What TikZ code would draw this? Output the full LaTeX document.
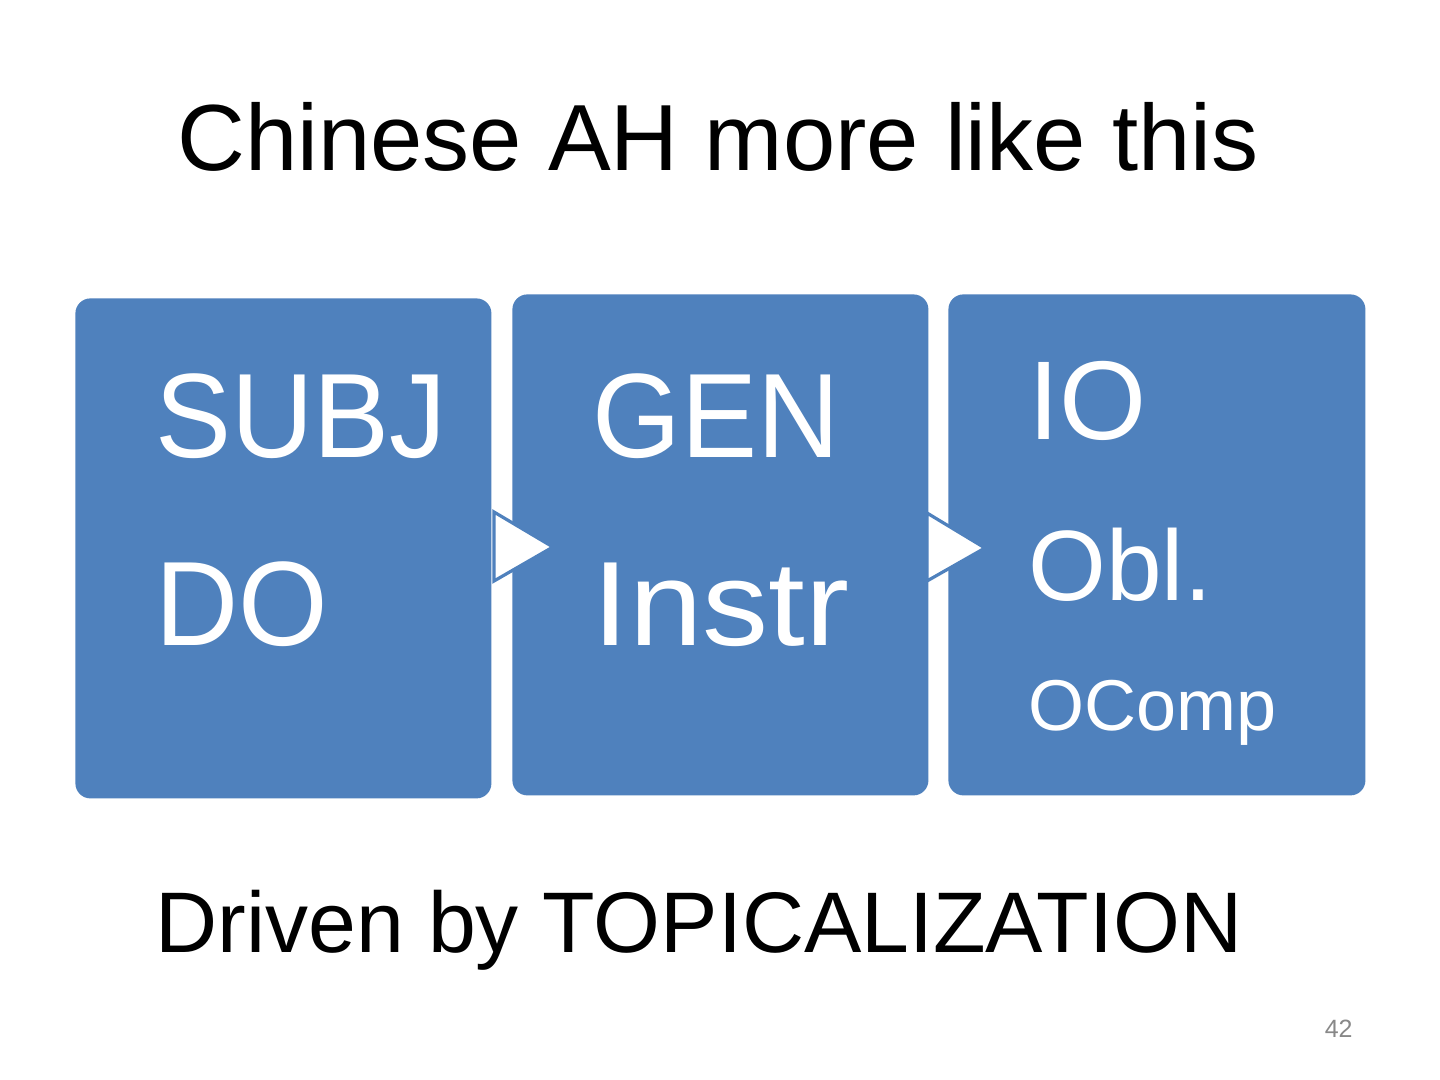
\documentclass[tikz,border=0pt]{standalone}
\usepackage{fontspec}
\setmainfont{Liberation Sans}
\definecolor{boxblue}{HTML}{4F81BD}
\definecolor{pagegray}{HTML}{888888}
\begin{document}
\begin{tikzpicture}[x=0.5pt,y=-0.5pt,
  box/.style={fill=boxblue, draw=none, rounded corners=7.5pt, minimum width=208pt, minimum height=250pt, inner sep=0pt, anchor=north west},
  btext/.style={text=white, anchor=base west, inner sep=0pt},
  chev/.style={fill=white, draw=boxblue, line width=1.6pt, line join=miter}]
\useasboundingbox (0,0) rectangle (1440,1080);
\fill[white] (0,0) rectangle (1440,1080);
\node[box] (b1) at (75,298) {};
\node[box, minimum height=250.5pt] (b2) at (512,294) {};
\node[box, minimum height=250.5pt, minimum width=208.5pt] (b3) at (948,294) {};
\node[btext, font=\fontsize{60}{60}\selectfont] (subj) at (155,458) {\scalebox{0.95}[1]{SUBJ}};
\node[btext, font=\fontsize{60}{60}\selectfont] (do) at (155,645) {\scalebox{0.96}[1]{DO}};
\node[btext, font=\fontsize{60}{60}\selectfont] (gen) at (592,458) {\scalebox{0.95}[1]{GEN}};
\node[btext, font=\fontsize{60}{60}\selectfont] (instr) at (592,645) {\scalebox{1.1}[1]{Instr}};
\node[btext, font=\fontsize{56}{56}\selectfont] (io) at (1028,440) {IO};
\node[btext, font=\fontsize{50}{50}\selectfont] (obl) at (1028,600) {Obl.};
\node[btext, font=\fontsize{36}{36}\selectfont] (ocomp) at (1028,730) {OComp};
\draw[chev] (494,512) -- (553,547) -- (494,581) -- cycle;
\draw[chev] (927,513) -- (985,548) -- (927,581) -- cycle;
\node[font=\fontsize{47}{47}\selectfont, anchor=base, inner sep=0pt] (title) at (718,171) {Chinese AH more like this};
\node[font=\fontsize{43}{43}\selectfont, anchor=base, inner sep=0pt] (foot) at (699,952) {Driven by TOPICALIZATION};
\node[font=\fontsize{12.5}{12.5}\selectfont, text=pagegray, anchor=base east, inner sep=0pt] (pg) at (1353,1037) {42};
\end{tikzpicture}
\end{document}
